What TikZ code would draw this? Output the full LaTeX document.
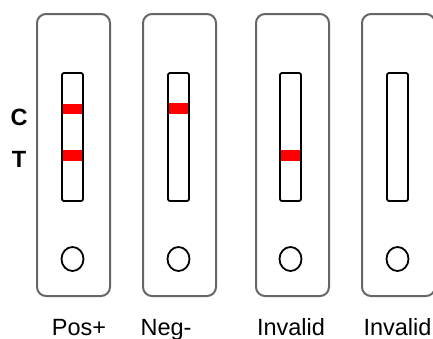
\documentclass[tikz,border=0pt]{standalone}
\usepackage{fontspec}
\setmainfont{Liberation Sans}
\usetikzlibrary{shapes.geometric}
\begin{document}
\begin{tikzpicture}[x=1pt,y=-1pt,
  card/.style={draw=black!60, line width=2pt, rounded corners=9pt},
  window/.style={draw=black, line width=1.8pt, rounded corners=2pt},
  band/.style={fill=red, draw=none},
  well/.style={draw=black, line width=1.8pt, ellipse, minimum width=22pt, minimum height=24pt, inner sep=0pt},
  lbl/.style={font=\fontsize{23.5}{26}\selectfont, anchor=base},
  ctl/.style={font=\bfseries\fontsize{23.5}{26}\selectfont, anchor=base}]
\useasboundingbox (0,0) rectangle (433,338);
% cards
\foreach \n/\x in {1/37,2/143,3/256,4/362}{
  \draw[card] (\x,14) rectangle ++(73,282);
}
% red bands (drawn before windows)
\fill[band] (62,104) rectangle (83,114);
\fill[band] (62,150) rectangle (83,161);
\fill[band] (168,103) rectangle (189,114);
\fill[band] (280,150) rectangle (301,161);
% windows
\foreach \n/\x in {1/62,2/168,3/280,4/387}{
  \draw[window] (\x,73) rectangle ++(21,128);
  \node[well] (w\n) at (\x+10.5,259) {};
}
% labels
\node[ctl] (c) at (19,125) {C};
\node[ctl] (t) at (19,167) {T};
\node[lbl] (l1) at (79,335) {Pos+};
\node[lbl] (l2) at (166,335) {Neg-};
\node[lbl] (l3) at (291,335) {Invalid};
\node[lbl] (l4) at (397.5,335) {Invalid};
\end{tikzpicture}
\end{document}
